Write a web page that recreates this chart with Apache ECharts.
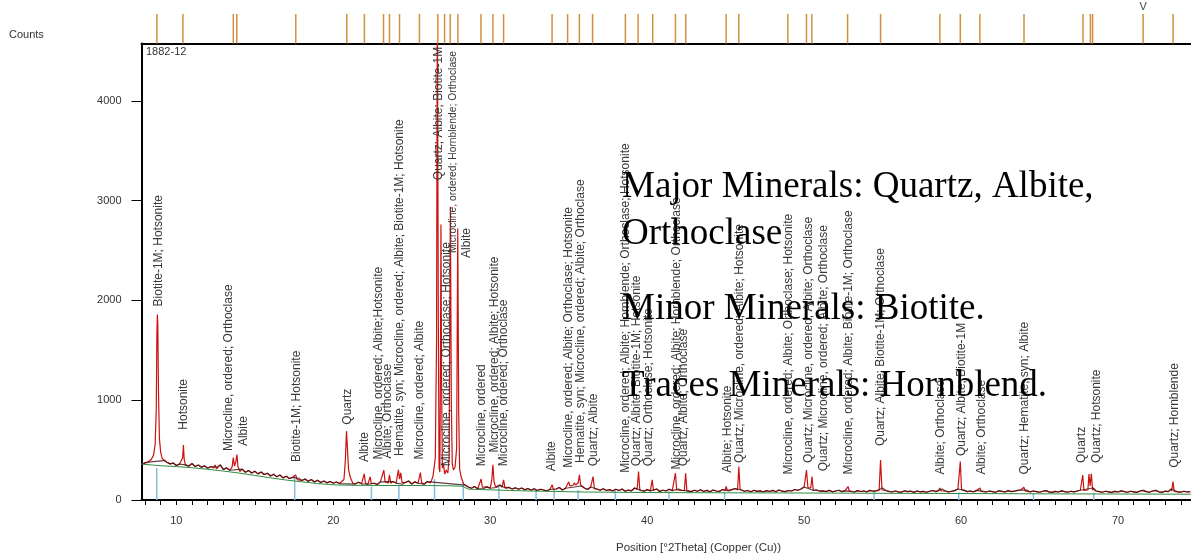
<!DOCTYPE html>
<html><head><meta charset="utf-8">
<script src="https://cdn.jsdelivr.net/npm/echarts@6/dist/echarts.min.js"></script>
<style>html,body{margin:0;padding:0;background:#fff}#c{width:1191px;height:560px}</style>
</head><body><div id="c"></div>
<script>
// ---------------- data ----------------
const scanStart = 7.8, scanStep = 0.2;
const scanCounts = [
355,372,380,395,430,600,470,395,378,362,
370,345,360,380,352,340,366,335,350,328,
342,318,336,310,330,352,305,322,298,315,
300,292,310,278,296,270,288,262,280,255,
268,240,258,232,250,222,238,215,226,205,
218,196,210,188,205,180,198,176,190,172,
186,168,180,165,200,300,185,172,160,178,
162,175,158,190,168,155,182,165,175,160,
185,170,195,158,176,190,160,182,168,175,
160,185,170,200,300,280,300,290,310,300,
290,260,220,150,130,118,135,112,128,115,
132,118,140,125,150,130,118,126,110,122,
108,120,102,115,98,112,95,108,100,92,
105,130,110,125,100,118,140,160,185,200,
140,120,105,130,170,110,98,112,95,104,
90,108,95,110,88,100,92,120,105,96,
88,104,92,100,110,86,98,90,108,94,
100,110,96,120,92,84,98,88,102,85,
96,82,100,90,86,105,98,92,104,115,
120,100,88,95,82,98,86,92,80,94,
85,96,82,100,88,84,95,90,105,98,
110,130,140,115,95,100,88,92,84,96,
82,90,98,84,92,110,88,80,94,85,
90,82,96,88,92,100,120,95,86,80,
90,82,78,92,84,88,76,90,82,86,
78,88,95,84,100,110,90,82,88,94,
110,120,96,84,90,82,96,112,86,80,
90,84,78,92,86,80,94,84,88,96,
100,115,98,82,90,84,78,88,94,82,
76,86,80,92,84,78,88,82,90,98,
130,150,160,120,90,84,78,88,82,76,
86,80,92,84,78,88,82,76,90,96,
84,78,90,96,82,76,88,84,110,95,
82,78,88,80,84
];
const peakSegments = [
 [[8.4,405],[8.55,450],[8.65,560],[8.72,900],[8.76,1650],[8.79,1860],[8.82,1760],[8.86,1100],[8.92,620],[9.0,480],[9.1,415]],
 [[10.32,360],[10.4,420],[10.45,550],[10.5,410],[10.58,350]],
 [[12.38,320],[12.47,352],[12.56,312]],
 [[13.45,300],[13.55,330],[13.63,425],[13.7,340],[13.79,380],[13.86,455],[13.93,330],[14.05,285]],
 [[17.5,212],[17.6,252],[17.7,205]],
 [[20.5,168],[20.68,205],[20.77,400],[20.84,690],[20.9,520],[20.97,310],[21.08,230],[21.25,165]],
 [[21.9,172],[21.97,262],[22.05,170]],
 [[22.28,160],[22.35,232],[22.42,165]],
 [[23.12,165],[23.22,300],[23.3,180],[23.5,170],[23.58,252],[23.66,168]],
 [[24.05,180],[24.15,302],[24.22,210],[24.3,272],[24.38,175]],
 [[25.45,170],[25.55,275],[25.63,172]],
 [[26.2,172],[26.35,235],[26.5,420],[26.58,1600],[26.63,5200],[26.69,1900],[26.74,320],[26.79,280],[26.83,1400],[26.86,2760],[26.9,1200],[26.95,320],[27.02,360],[27.1,260],[27.2,300],[27.3,270],[27.38,420],[27.46,2940],[27.52,1000],[27.58,360],[27.66,300],[27.76,330],[27.86,520],[27.93,2720],[27.99,900],[28.05,310],[28.15,230],[28.3,160]],
 [[29.32,125],[29.42,210],[29.5,128]],
 [[30.02,135],[30.1,205],[30.17,352],[30.24,185],[30.34,130]],
 [[30.76,128],[30.85,202],[30.94,124]],
 [[33.88,110],[33.95,152],[34.02,108]],
 [[34.92,125],[35.0,182],[35.08,140],[35.3,150],[35.36,172],[35.45,150],[35.6,170],[35.68,252],[35.76,150]],
 [[36.46,112],[36.55,235],[36.64,110]],
 [[39.36,105],[39.45,285],[39.53,100]],
 [[40.24,95],[40.32,202],[40.4,96]],
 [[41.72,98],[41.8,270],[41.88,100]],
 [[42.37,95],[42.45,268],[42.53,92]],
 [[44.96,95],[45.03,135],[45.1,98]],
 [[45.76,100],[45.84,335],[45.92,105]],
 [[50.06,110],[50.15,300],[50.24,125],[50.42,120],[50.5,235],[50.58,100]],
 [[52.72,90],[52.8,135],[52.88,88]],
 [[54.78,95],[54.87,400],[54.96,100]],
 [[58.56,95],[58.65,120],[58.74,90]],
 [[59.87,100],[59.95,385],[60.03,105]],
 [[61.12,88],[61.2,120],[61.28,86]],
 [[63.92,95],[64.0,128],[64.08,92]],
 [[67.67,90],[67.75,250],[67.83,95],[68.08,100],[68.15,260],[68.22,140],[68.3,265],[68.38,95]],
 [[73.42,88],[73.5,185],[73.58,86]]
];
const backgroundCurve = [[7.78,360],[8.5,350],[9.0,343],[10,335],[11,323],[12,308],[13,290],[14,270],[15,246],[16,222],[17,200],[18,182],[19,165],[20,152],[21,148],[22,146],[24,145],[26,145],[27.5,142],[28.2,138],[28.6,110],[29,106],[30,102],[32,92],[34,86],[36,80],[40,75],[45,72],[50,70],[55,67],[60,65],[65,62],[70,60],[74.65,58]];
const patternStickPos = [8.75,17.54,22.43,24.18,26.45,28.28,30.55,32.92,34.07,35.6,37.97,41.39,44.93,54.46,59.85,64.61,68.45];
const patternStickHeight = [320,250,135,150,210,180,150,110,110,100,95,90,85,80,75,70,75];
const refLinePos = [8.76,10.42,13.63,13.85,17.61,20.86,21.98,23.2,23.58,24.22,25.49,26.66,27.09,27.45,27.94,29.41,30.17,30.85,33.94,34.93,35.68,36.52,38.61,39.42,40.35,41.8,42.46,45.03,45.84,48.96,50.15,50.49,52.77,54.87,58.65,59.95,61.2,64.01,67.77,68.24,68.38,71.6,73.51];
const refMarkerPos = 71.6;
const labelPos = [8.85,10.44,13.35,14.27,17.67,20.9,22.03,22.88,23.48,24.2,25.49,26.7,27.66,27.24,28.51,29.43,30.26,30.85,33.94,34.99,35.74,36.59,38.61,39.36,40.1,41.91,42.33,45.1,45.9,49.02,50.3,51.26,52.85,54.87,58.7,60.04,61.31,64.06,67.7,68.65,73.58];
const labelBase = [1935,700,485,535,375,750,375,400,410,435,400,3200,2470,333,2420,333,470,333,283,317,367,333,267,333,333,300,333,267,367,250,367,283,250,535,250,435,250,250,367,367,317];
const labelText = [
 'Biotite-1M; Hotsonite','Hotsonite','Microcline, ordered; Orthoclase','Albite','Biotite-1M; Hotsonite','Quartz','Albite',
 'Microcline, ordered; Albite;Hotsonite','Albite; Orthoclase','Hematite, syn; Microcline, ordered; Albite; Biotite-1M; Hotsonite',
 'Microcline, ordered; Albite','Quartz; Albite; Biotite-1M','Microcline, ordered; Hornblende; Orthoclase',
 'Microcline, ordered; Orthoclase; Hotsonite','Albite','Microcline, ordered','Microcline, ordered; Albite; Hotsonite',
 'Microcline, ordered; Orthoclase','Albite','Microcline, ordered; Albite; Orthoclase; Hotsonite',
 'Hematite, syn; Microcline, ordered; Albite; Orthoclase','Quartz; Albite',
 'Microcline, ordered; Albite; Hornblende; Orthoclase; Hotsonite','Quartz; Albite; Biotite-1M; Hotsonite',
 'Quartz; Orthoclase; Hotsonite','Microcline, ordered; Albite; Hornblende; Orthoclase','Quartz; Albite; Orthoclase',
 'Albite; Hotsonite','Quartz; Microcline, ordered; Albite; Hotsonite','Microcline, ordered; Albite; Orthoclase; Hotsonite',
 'Quartz; Microcline, ordered; Albite; Orthoclase','Quartz; Microcline, ordered; Albite; Orthoclase',
 'Microcline, ordered; Albite; Biotite-1M; Orthoclase','Quartz; Albite; Biotite-1M; Orthoclase','Albite; Orthoclase',
 'Quartz; Albite; Biotite-1M','Albite; Orthoclase','Quartz; Hematite, syn; Albite','Quartz','Quartz; Hotsonite','Quartz; Hornblende'
];
const smallLabelIndex = 12;
const xTickValues = [8,9,10,11,12,13,14,15,16,17,18,19,20,21,22,23,24,25,26,27,28,29,30,31,32,33,34,35,36,37,38,39,40,41,42,43,44,45,46,47,48,49,50,51,52,53,54,55,56,57,58,59,60,61,62,63,64,65,66,67,68,69,70,71,72,73,74];
const xLabelValues = [10,20,30,40,50,60,70];
const yLabelValues = [0,1000,2000,3000,4000];
const summaryLines = ['Major Minerals: Quartz, Albite,','Orthoclase','Minor Minerals: Biotite.','Traces Minerals: Hornblend.'];

// ---------------- build ----------------
const windows = peakSegments.map(s => [s[0][0], s[s.length - 1][0]]);
const bgSamples = scanCounts.map((c, i) => [+(scanStart + i * scanStep).toFixed(2), c]);
const outside = bgSamples.filter(p => !windows.some(w => p[0] >= w[0] - 1e-6 && p[0] <= w[1] + 1e-6));
const profile = outside.concat(...peakSegments).sort((a, b) => a[0] - b[0]);

const XMIN = 7.78, XMAX = 74.65, YMAX = 4575;
const sans = '"Liberation Sans", Arial, sans-serif';
const serif = '37px "Liberation Serif", "Times New Roman", serif';
const clear = 'rgba(0,0,0,0)';

const labelData = labelPos.map((p, i) => ({
  value: [p, labelBase[i]],
  label: { formatter: labelText[i], fontSize: i === smallLabelIndex ? 10.3 : 12 }
}));

const chart = echarts.init(document.getElementById('c'), null, { renderer: 'canvas' });
chart.setOption({
  animation: false,
  backgroundColor: '#fff',
  grid: [
    { left: 141.5, top: 43.5, right: 0, height: 456.5 },
    { left: 141.5, top: 14, right: 0, height: 29.5 }
  ],
  xAxis: [
    { gridIndex: 0, type: 'value', min: XMIN, max: XMAX,
      axisLine: { show: true, lineStyle: { color: '#000', width: 2 } },
      axisTick: { show: true, customValues: xTickValues, length: 5, lineStyle: { color: '#000', width: 1 } },
      axisLabel: { show: true, customValues: xLabelValues, margin: 15, color: '#333', fontFamily: sans, fontSize: 11,
                   formatter: v => String(v) },
      splitLine: { show: false } },
    { gridIndex: 1, type: 'value', min: XMIN, max: XMAX,
      axisLine: { show: true, lineStyle: { color: '#000', width: 2 } },
      axisTick: { show: false }, axisLabel: { show: false }, splitLine: { show: false } }
  ],
  yAxis: [
    { gridIndex: 0, type: 'value', min: 0, max: YMAX,
      axisLine: { show: true, lineStyle: { color: '#000', width: 2 } },
      axisTick: { show: true, customValues: yLabelValues, length: 10, lineStyle: { color: '#000', width: 1 } },
      axisLabel: { show: true, customValues: yLabelValues, margin: 20, color: '#333', fontFamily: sans, fontSize: 11,
                   formatter: v => String(v) },
      splitLine: { show: false } },
    { gridIndex: 1, type: 'value', min: 0, max: 1, show: false }
  ],
  series: [
    { type: 'bar', xAxisIndex: 0, yAxisIndex: 0, barWidth: 1.5, silent: true, z: 1,
      itemStyle: { color: '#86bedb' },
      data: patternStickPos.map((p, i) => [p, patternStickHeight[i]]) },
    { type: 'line', xAxisIndex: 0, yAxisIndex: 0, data: profile, symbol: 'none', z: 3,
      lineStyle: { color: '#cc1111', width: 1.2 } },
    { type: 'line', xAxisIndex: 0, yAxisIndex: 0, data: outside, symbol: 'none', z: 4,
      lineStyle: { color: '#3a1010', width: 1.2, opacity: 0.8 } },
    { type: 'line', xAxisIndex: 0, yAxisIndex: 0, data: backgroundCurve, symbol: 'none', z: 5,
      lineStyle: { color: '#2e8b3e', width: 1 } },
    { type: 'scatter', xAxisIndex: 0, yAxisIndex: 0, symbolSize: 1, z: 6, silent: true,
      itemStyle: { color: clear },
      label: { show: true, position: 'top', distance: 0, rotate: 90, align: 'left', verticalAlign: 'middle',
               color: '#383838', fontFamily: sans, fontSize: 12, opacity: 1 },
      labelLayout: { hideOverlap: false },
      data: labelData },
    { type: 'bar', xAxisIndex: 1, yAxisIndex: 1, barWidth: 1.5, silent: true,
      itemStyle: { color: '#d0913c' },
      data: refLinePos.map(p => [p, 1]) },
    { type: 'scatter', xAxisIndex: 1, yAxisIndex: 1, symbolSize: 1, itemStyle: { color: clear },
      label: { show: true, position: 'top', distance: 1, formatter: 'V', color: '#444', fontFamily: sans, fontSize: 11, opacity: 1 },
      data: [[refMarkerPos, 1]] }
  ],
  graphic: [
    { type: 'text', x: 9, y: 35, style: { text: 'Counts', font: '11px ' + sans, fill: '#333', verticalAlign: 'middle' } },
    { type: 'text', x: 146, y: 52, z: 10, style: { text: '1882-12', font: '11px ' + sans, fill: '#333', verticalAlign: 'middle' } },
    { type: 'text', x: 616, y: 548, style: { text: 'Position [°2Theta] (Copper (Cu))', font: '11.5px ' + sans, fill: '#333', verticalAlign: 'middle' } },
    { type: 'text', x: 622, y: 187, z: 20, style: { text: summaryLines[0], font: serif, fill: '#000', verticalAlign: 'middle' } },
    { type: 'text', x: 622, y: 234, z: 20, style: { text: summaryLines[1], font: serif, fill: '#000', verticalAlign: 'middle' } },
    { type: 'text', x: 622, y: 309, z: 20, style: { text: summaryLines[2], font: serif, fill: '#000', verticalAlign: 'middle' } },
    { type: 'text', x: 622, y: 386, z: 20, style: { text: summaryLines[3], font: serif, fill: '#000', verticalAlign: 'middle' } }
  ]
});
</script>
</body></html>
